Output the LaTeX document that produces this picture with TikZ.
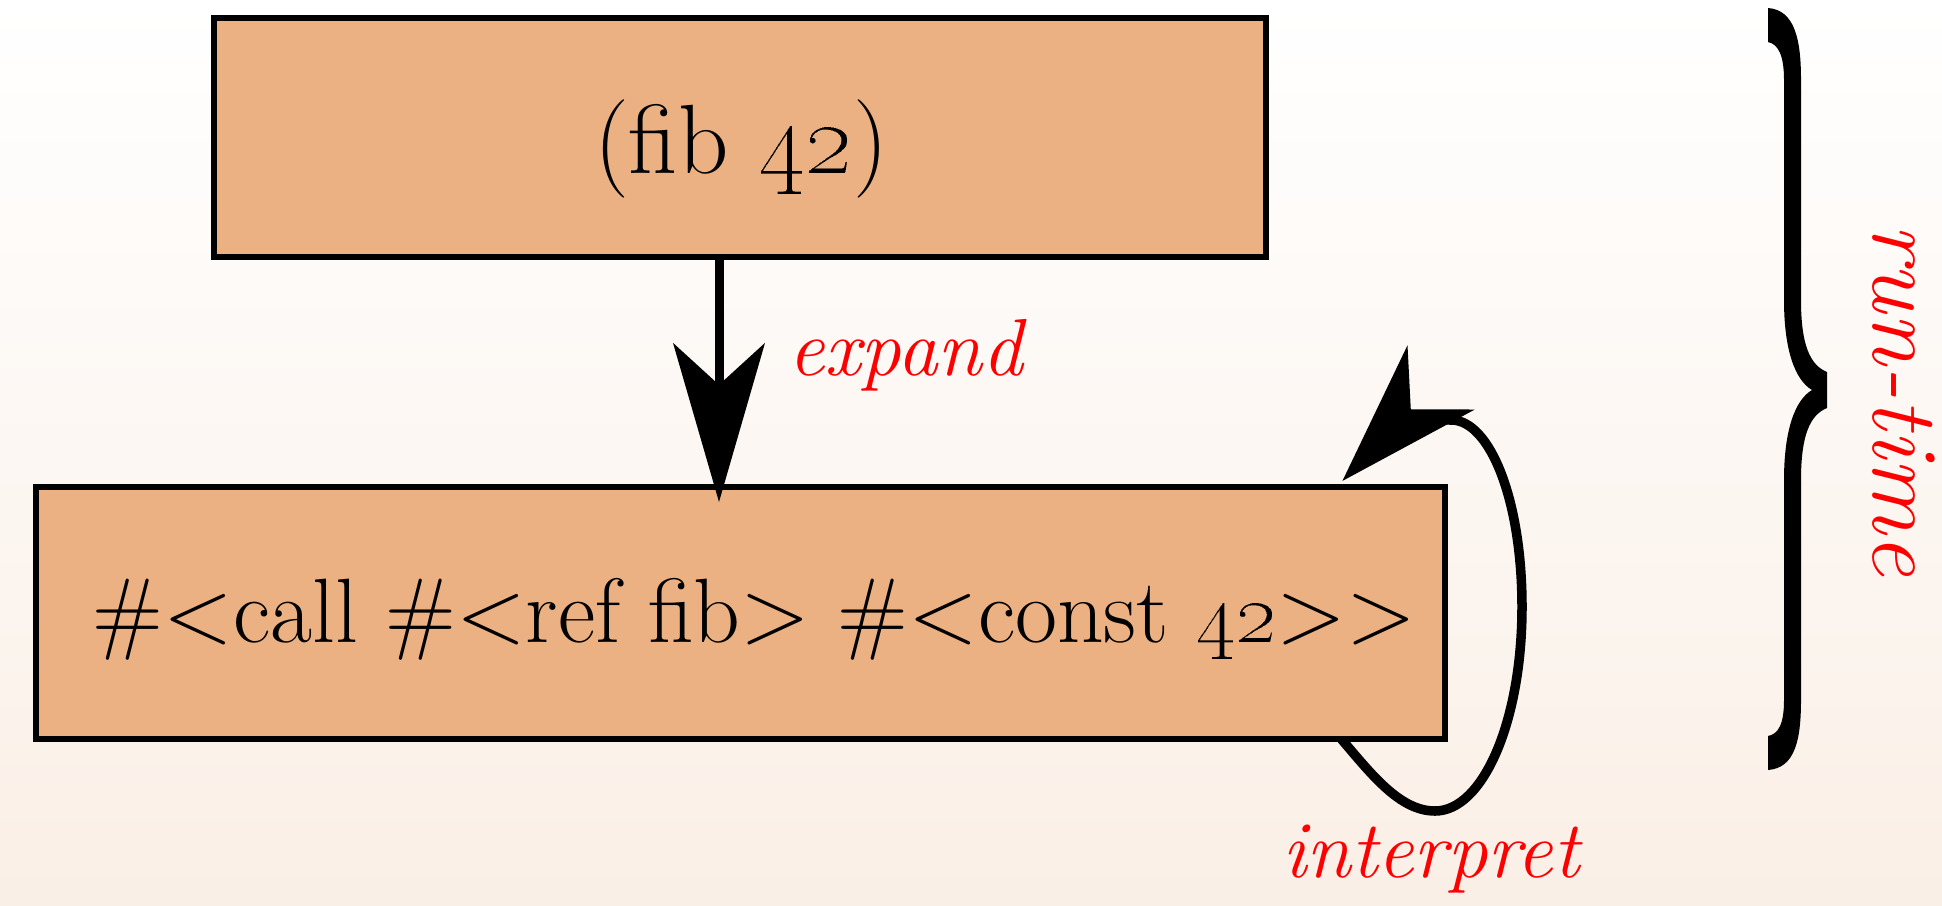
\documentclass[tikz,border=0pt]{standalone}
\usetikzlibrary{arrows.meta,calc}
\definecolor{boxfill}{RGB}{235,177,130}
\definecolor{bgbot}{RGB}{250,239,230}
\definecolor{lblred}{RGB}{255,0,0}
\begin{document}
\begin{tikzpicture}[x=0.01cm,y=-0.01cm,
  box/.style={draw=black, line width=0.06cm, fill=boxfill, inner sep=0pt, outer sep=0pt, rectangle},
  boxtext/.style={inner sep=0pt, outer sep=0pt, anchor=base},
  lbl/.style={text=lblred, font=\fontsize{23}{27}\selectfont\itshape, inner sep=0pt, outer sep=0pt},
  conn/.style={line width=0.09cm, line join=round},
]
\shade[top color=white, bottom color=bgbot] (0,0) rectangle (1942,905);
\useasboundingbox (0,0) rectangle (1942,905);
% boxes
\node[box, minimum width=10.52cm, minimum height=2.39cm] (top) at (740,137.5) {};
\node[box, minimum width=14.09cm, minimum height=2.52cm] (bot) at (740.5,613) {};
\node[boxtext, font=\fontsize{28}{33}\selectfont] (toptext) at ($(top.center)+(1,35.5)$) {(fib \oldstylenums{42})};
\node[boxtext, font=\fontsize{26}{31}\selectfont] (bottext) at ($(bot.center)+(14,29)$) {\#<call \#<ref fib> \#<const \oldstylenums{42}>{}>};
% expand edge
\draw[conn, -{Stealth[length=1.59cm, width=0.92cm, inset=0.42cm, line width=0pt]}] ($(top.south)+(-21,0)$) -- ($(bot.north)+(-21.5,15)$);
\node[lbl, anchor=base west] (expand) at ($(top.south)+(48,118)$) {expand};
% interpret self loop
\coordinate (ls) at ($(bot.south east)+(-104,0)$);
\coordinate (lt) at ($(bot.north east)+(-103,-6)$);
\coordinate (ln) at ($(lt)+(62,-65)$);
\draw[conn, line width=0.095cm, -{Stealth[length=1.43cm, width=0.93cm, inset=0.44cm, line width=0pt]}]
  (ls) .. controls (1372,775) and (1400,811) .. (1435,811)
       .. controls (1483,811) and (1522,721) .. (1522,607)
       .. controls (1522,500) and (1490,421) .. (1452,420)
       .. controls (1435,420) and (1415,418) .. (ln) -- (lt);
\node[lbl, anchor=base] (interp) at ($(bot.south east)+(-14.5,138)$) {interpret};
% brace
\fill[black] (1768,8) .. controls (1795,10) and (1801,40) .. (1801,80) -- (1801,300)
  .. controls (1801,345) and (1810,365) .. (1827,372) -- (1827,408)
  .. controls (1810,415) and (1801,435) .. (1801,480) -- (1801,700)
  .. controls (1801,740) and (1795,768) .. (1768,770) -- (1768,736)
  .. controls (1778,734) and (1784,725) .. (1784,700) -- (1784,480)
  .. controls (1784,430) and (1795,400) .. (1812,390)
  .. controls (1795,380) and (1784,350) .. (1784,300) -- (1784,80)
  .. controls (1784,55) and (1778,44) .. (1768,42) -- cycle;
\node[lbl, font=\fontsize{27}{32}\selectfont\itshape, rotate=-90, anchor=base] (rt) at (1873,400) {run-time};
\end{tikzpicture}
\end{document}
